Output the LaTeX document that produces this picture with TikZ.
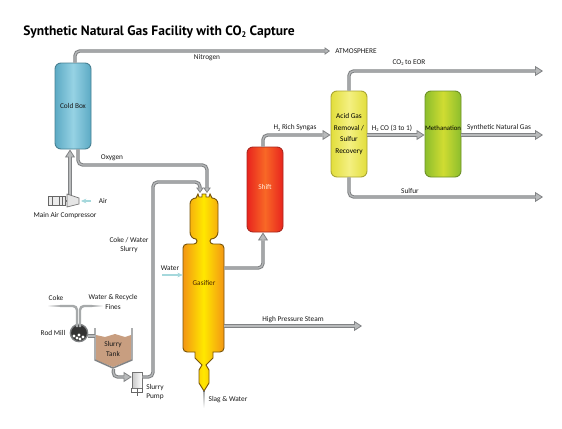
\documentclass[tikz,border=0pt]{standalone}
\usepackage{fontspec}
\setmainfont{PT Sans}
\newfontfamily\lblfont{Carlito}
\usetikzlibrary{arrows.meta,calc}
\definecolor{pipeD}{HTML}{818385}
\definecolor{pipeL}{HTML}{B8BABB}
\definecolor{teal}{HTML}{A5D8DC}
\definecolor{coldE}{RGB}{72,128,146}
\definecolor{coldS}{RGB}{92,170,196}
\definecolor{coldM}{RGB}{150,210,228}
\definecolor{shiftE}{RGB}{170,40,30}
\definecolor{shiftS}{RGB}{232,36,30}
\definecolor{shiftM}{RGB}{248,104,38}
\definecolor{acidE}{RGB}{170,165,50}
\definecolor{acidS}{RGB}{226,222,60}
\definecolor{acidM}{RGB}{244,240,130}
\definecolor{methE}{RGB}{110,145,40}
\definecolor{methS}{RGB}{140,190,45}
\definecolor{methM}{RGB}{208,220,50}
\definecolor{gasE}{RGB}{120,85,10}
\definecolor{gasS}{RGB}{243,150,20}
\definecolor{gasM}{RGB}{255,232,0}
\newcommand{\subt}[1]{\raisebox{-0.35ex}{\scalebox{0.6}{#1}}}
\tikzset{
  x=0.75pt,y=-0.75pt,
  vessel/.style={rectangle,rounded corners=4.5pt,line width=.7pt,inner sep=0pt,minimum width=27pt,minimum height=64.5pt,align=center},
  tricolor/.style n args={3}{draw=#1,left color=#2,right color=#2,middle color=#3},
  lbl/.style={font=\lblfont\fontsize{5.5}{6.2}\selectfont,text=black!90,inner sep=0pt,align=center},
  pipe/.style={draw=pipeD,line width=2.5pt,rounded corners=3.5pt,postaction={draw=pipeL,line width=.9pt,-,shorten >=#1}},
  pipe/.default=0pt,
  bighead/.style={-{Triangle[length=6pt,width=7.5pt,line width=.6pt,color=pipeD,fill=pipeL]}},
  smallhead/.style={-{Triangle[length=4pt,width=5.5pt,line width=.6pt,color=pipeD,fill=pipeL]}},
  thin pipe/.style={draw=pipeL!70!pipeD,line width=1.8pt,rounded corners=3pt},
  airflow/.style={draw=teal,line width=.8pt,-{Stealth[length=4pt,width=3.5pt]}},
}
\begin{document}
\begin{tikzpicture}
\useasboundingbox (0,0) rectangle (562,429);
\fill[white] (0,0) rectangle (562,429);
% title
\node[anchor=west,inner sep=0pt,font=\fontsize{10.15}{12}\bfseries\selectfont] (title) at (23,32) {Synthetic Natural Gas Facility with CO\subt{2} Capture};
% free ends
\coordinate (atm) at (330,51);
\coordinate (eor) at (543,71);
\coordinate (sng) at (543,135);
\coordinate (sul) at (543,197);
\coordinate (hps) at (362,326);
\coordinate (cokeEnd) at (60,306);
\coordinate (wtrEnd) at (92,306);
\coordinate (gasIn1) at (200,193);
\coordinate (gasIn2) at (207,193);
% vessels
\node[vessel,tricolor={coldE}{coldS}{coldM}] (coldbox) at (73,106) {};
\node[vessel,tricolor={shiftE}{shiftS}{shiftM},minimum height=63.75pt] (shift) at (265,189.5) {};
\node[vessel,tricolor={acidE}{acidS}{acidM}] (acid) at (349,134) {};
\node[vessel,tricolor={methE}{methS}{methM}] (meth) at (443,134) {};
% gasifier
\path[line width=.7pt,tricolor={gasE}{gasS}{gasM}]
  (198,194) -- (199,197) -- (202,197) -- (202,194) -- (206,194) -- (206,197) -- (209,197) -- (210,194) -- (212,198)
  to[out=0,in=90] (218,204) -- (218,232) to[out=-90,in=0] (211,239) -- (210,241) to[out=-90,in=180] (213,244)
  -- (220,244) to[out=0,in=90] (224,248) -- (224,348) to[out=-90,in=0] (220,352) -- (213,352) -- (213,358) -- (206,365) -- (209,370) -- (209,383) -- (204,391)
  -- (199,383) -- (199,370) -- (202,365) -- (195,358) -- (195,352) -- (187,352) to[out=180,in=-90] (183,348)
  -- (183,248) to[out=90,in=180] (187,244) -- (194,244) to[out=0,in=-90] (197,241) -- (196,239) to[out=180,in=-90] (190,232)
  -- (190,204) to[out=90,in=180] (196,198) -- cycle;
\node[inner sep=0pt,minimum width=30.75pt,minimum height=81pt] (gas) at (203.5,298) {};
% compressor
\node[draw=black!60,fill=black!8,line width=.5pt,inner sep=0pt,minimum width=12.5pt,minimum height=6.5pt] (motor) at (56.5,201) {};
\draw[black!60,line width=.6pt] (52,196) -- (52,205) (59,196) -- (59,205) (62,196)--(62,205);
\draw[black!55,line width=.8pt] (motor.east) -- (67,201);
% pipes
\coordinate (comp) at (70,197);
\draw[pipe=3pt,bighead] (comp) -- (coldbox.south -| 70,0);
\path[draw=black!55,fill=black!10,line width=.5pt] (67,194) -- (79,198) -- (79,204) -- (67,207) -- cycle;
% rod mill
\node[circle,draw=pipeD,line width=1pt,fill=black!80,minimum size=13pt,inner sep=0pt] (mill) at (79,333) {};
\foreach \a/\b in {74/336,77/338,80/339,83/337,79/335}{\fill[white] (\a,\b) circle (1.2pt);}
% slurry tank
\path[fill={rgb,255:red,200;green,158;blue,128}] (96,335) -- (105,337) -- (115,334) -- (125,337) -- (131,335) -- (131,360) -- (113,367) -- (96,360) -- cycle;
\draw[draw=pipeD,line width=1.1pt] (95,328) -- (95,360) -- (113,368) -- (132,360) -- (132,328);
\node[inner sep=0pt,minimum width=27.75pt,minimum height=30pt] (tank) at (113.5,349) {};
% pump
\node[draw=black!55,left color=black!22,right color=white,line width=.5pt,inner sep=0pt,minimum width=7.5pt,minimum height=12pt] (pump) at (137,380) {};
\draw[black!60,line width=.6pt] (pump.south west) -- ++(0,5) (pump.south east) -- ++(0,5) ($(pump.south)+(-5,4)$) -- ++(10,0) (pump.south) -- ++(0,8);
% connectors
\draw[pipe=3pt,smallhead] (coldbox.north -| 75,0) -- (75,51) -- (atm);
\draw[pipe=3pt,smallhead] (coldbox.south -| 78,0) -- (78,165) -- (207,165) -- (gasIn2);
\draw[pipe=3pt,smallhead] (pump.east |- 0,377) -- (153,377) -- (153,182) -- (200,182) -- (gasIn1);
\draw[pipe=4pt,bighead] (gas.east |- 0,268) -- (263,268) -- (shift.south -| 263,0);
\draw[pipe=4pt,bighead] (shift.north -| 263,0) -- (263,135) -- (acid.west |- 0,135);
\draw[pipe=4pt,bighead] (acid.east |- 0,135) -- (meth.west |- 0,135);
\draw[pipe=4pt,bighead] (meth.east |- 0,135) -- (sng);
\draw[pipe=4pt,bighead] (acid.north) -- (349,71) -- (eor);
\draw[pipe=4pt,bighead] (acid.south) -- (349,197) -- (sul);
\draw[pipe=4pt,bighead] (gas.east |- 0,326) -- (hps);
\draw[pipe=4pt,bighead] (tank.south |- 0,369) -- (113,377) -- (pump.west |- 0,377);
\draw[pipe] (mill.east |- 0,336) -- (tank.west |- 0,336);
\draw[thin pipe] (cokeEnd) -- (77,306) -- (77,327);
\draw[thin pipe] (wtrEnd) -- (80,306) -- (80,327);
\fill[left color=white,right color=pipeL!70!pipeD] (47,305.2) rectangle (60,306.8);
\fill[left color=pipeL!70!pipeD,right color=white] (92,305.2) rectangle (103,306.8);
\fill[top color=pipeL!70!pipeD,bottom color=white] (203.3,391) rectangle (204.7,408);
% air / water
\coordinate (airS) at (91,201);
\coordinate (watS) at (162,275);
\draw[airflow] (airS) -- (81,201);
\draw[airflow] (watS) -- (gas.west |- 0,275);
% labels
\node[lbl] (l1) at (356,51) {ATMOSPHERE};
\node[lbl] (l2) at (207,58) {Nitrogen};
\node[lbl] (l3) at (112,158) {Oxygen};
\node[lbl] (l4) at (73,106) {Cold Box};
\node[lbl] (l5) at (103,201) {Air};
\node[lbl] (l6) at (65,216) {Main Air Compressor};
\node[lbl,text=white!85!orange] (l7) at (265,187) {Shift};
\node[lbl] (l8) at (295,128) {H\subt{2} Rich Syngas};
\node[lbl,text=black] (l9) at (349,134) {Acid Gas\\[2.6pt]Removal /\\[2.6pt]Sulfur\\[2.6pt]Recovery};
\node[lbl,text=black,font=\lblfont\fontsize{5.1}{6}\selectfont] (l10) at (443,128) {Methanation};
\node[lbl] (l11) at (392,128) {H\subt{2} CO (3 to 1)};
\node[lbl] (l12) at (499,128) {Synthetic Natural Gas};
\node[lbl] (l13) at (409,63) {CO\subt{2} to EOR};
\node[lbl] (l14) at (410,191) {Sulfur};
\node[lbl] (l15) at (293,320) {High Pressure Steam};
\node[lbl,text=black!70!orange] (l16) at (204,283) {Gasifier};
\node[lbl] (l17) at (170,268) {Water};
\node[lbl] (l18) at (129,245) {Coke / Water\\[1.2pt]Slurry};
\node[lbl] (l19) at (56,298) {Coke};
\node[lbl] (l20) at (113,302) {Water \& Recycle\\[1.2pt]Fines};
\node[lbl] (l21) at (53,333) {Rod Mill};
\node[lbl] (l22) at (113,349) {Slurry\\[1.8pt]Tank};
\node[lbl,align=left,anchor=west] (l23) at (146,392) {Slurry\\[1.2pt]Pump};
\node[lbl] (l24) at (228,400) {Slag \& Water};
\end{tikzpicture}
\end{document}
